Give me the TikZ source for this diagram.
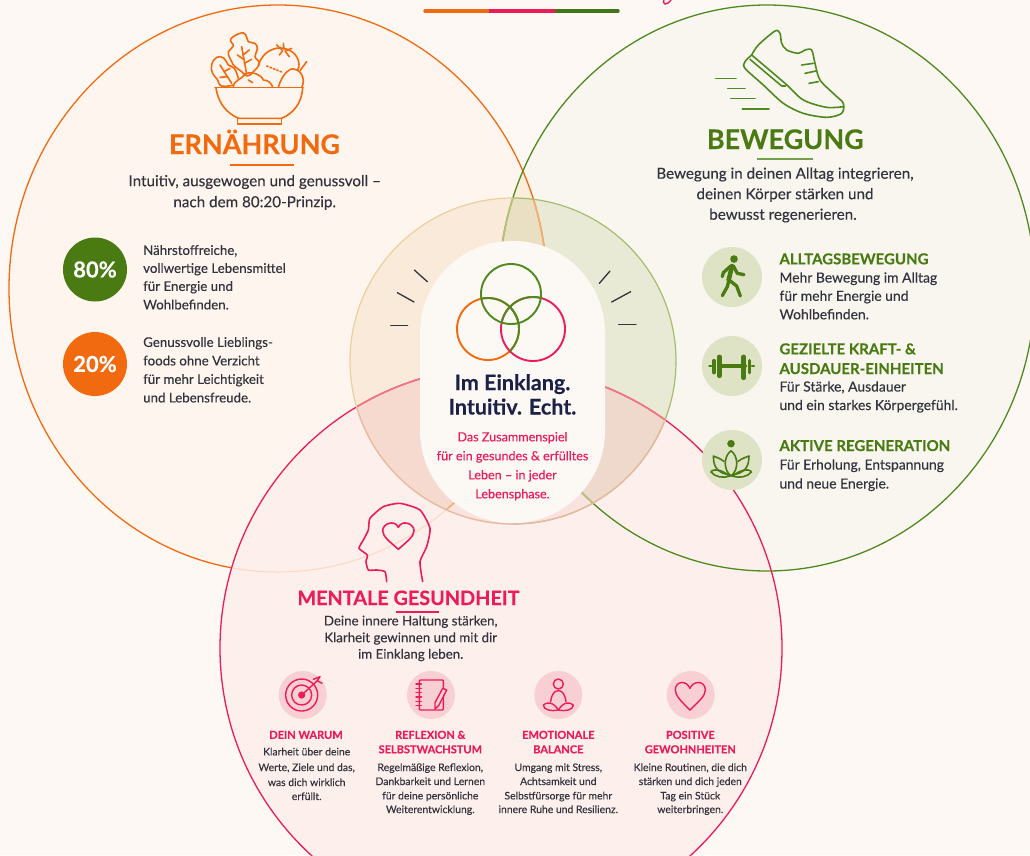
\documentclass[tikz,border=0pt]{standalone}
\usepackage{fontspec}
\setmainfont{Lato}[FakeBold=0.25]
\definecolor{bgc}{HTML}{FDF8F4}
\definecolor{ora}{HTML}{F26A10}
\definecolor{gre}{HTML}{4F8A1E}
\definecolor{grd}{HTML}{4A7A12}
\definecolor{pnk}{HTML}{EC1C5B}
\definecolor{orf}{HTML}{FEF6EE}
\definecolor{grf}{HTML}{F8F6EF}
\definecolor{pif}{HTML}{FDF0EC}
\definecolor{ink}{HTML}{33333D}
\definecolor{navy}{HTML}{1B2147}
\definecolor{lens}{HTML}{FCEEDD}
\definecolor{iO}{HTML}{F9EADA}
\definecolor{iG}{HTML}{E8EAD6}
\definecolor{iL}{HTML}{E9DFC2}
\definecolor{iP}{HTML}{FAE2DF}
\definecolor{iPO}{HTML}{F6D9CF}
\definecolor{iPG}{HTML}{EFD9CC}
\definecolor{lnO}{HTML}{F0B070}
\definecolor{lnG}{HTML}{B4C27A}
\definecolor{lnP}{HTML}{F07882}
\definecolor{bdO}{HTML}{EBCF9E}
\definecolor{bdG}{HTML}{A9BC6E}
\definecolor{bdP}{HTML}{E9B9A4}
\definecolor{pillc}{HTML}{FCF8F4}
\definecolor{discG}{HTML}{DFE3C5}
\definecolor{discP}{HTML}{F8CFD3}
\newcounter{tn}
\newcommand\fs[1]{\fontsize{#1}{#1}\selectfont}
\newcommand\tline[4]{\stepcounter{tn}\node[#1] (t\arabic{tn}) at (#2,#3) {#4};}
\newcommand\ringO{(278,288.5) ellipse [x radius=269pt,y radius=283.5pt]}
\newcommand\ringG{(767,288) ellipse [x radius=268pt,y radius=283pt]}
\newcommand\ringP{(501,648) circle [radius=281pt]}
\newcommand\ringI{(513,361) circle [radius=163pt]}
\tikzset{
 zm/.style n args={2}{xshift=#1pt,yshift=-#2pt,x=.33333pt,y=-.33333pt},
 tx/.style={inner sep=0pt,text=ink},
 big/.style={tx,anchor=base,font=\bfseries\fs{27},yshift=-9pt},
 lead/.style={tx,anchor=base,font=\fs{15.2},yshift=-3.7pt},
 side/.style={tx,anchor=base west,font=\fs{13.3},yshift=-3.4pt},
 sider/.style={tx,anchor=base west,font=\fs{13.9},yshift=-3.5pt},
 sideh/.style={tx,anchor=base west,font=\bfseries\fs{15},yshift=-5pt,text=grd},
 small/.style={tx,anchor=base,font=\fs{10.4},yshift=-2.7pt},
 smallh/.style={tx,anchor=base,font=\bfseries\fs{11},yshift=-3.8pt,text=pnk},
 head/.style={tx,anchor=base,font=\bfseries\fs{21.5},yshift=-7.5pt,text=navy},
 pinkl/.style={tx,anchor=base,font=\fs{12.6},yshift=-3.3pt,text=pnk},
 ico/.style={line width=1.6pt,line cap=round,line join=round},
 badge/.style={circle,inner sep=0pt,minimum size=64pt,text=white,font=\bfseries\fs{22}},
}
\begin{document}
\begin{tikzpicture}[x=1pt,y=-1pt]
\useasboundingbox (0,0) rectangle (1030,855);
\clip (0,0) rectangle (1030,855);
\fill[bgc] (0,0) rectangle (1030,855);
% big fills
\fill[orf] \ringO;
\fill[grf] \ringG;
\begin{scope}\clip \ringO; \fill[lens] \ringG; \end{scope}
% inner tints
\begin{scope}\clip \ringI;
 \begin{scope}\clip \ringO; \fill[iO] (300,190) rectangle (700,530);\end{scope}
 \begin{scope}\clip \ringG; \fill[iG] (300,190) rectangle (700,530);
   \clip \ringO; \fill[iL] (300,190) rectangle (700,530);\end{scope}
\end{scope}
\draw[ora,line width=1.3pt] \ringO;
% pink
\fill[pif] \ringP;
\begin{scope}\clip \ringP; \draw[ora,opacity=.18,line width=1pt] \ringO;\end{scope}
\begin{scope}\clip \ringI; \clip \ringP;
 \fill[iP] (300,190) rectangle (700,530);
 \begin{scope}\clip \ringO; \fill[iPO] (300,190) rectangle (700,530);\end{scope}
 \begin{scope}\clip \ringG; \fill[iPG] (300,190) rectangle (700,530);\end{scope}
\end{scope}
\draw[gre,line width=1.3pt] \ringG;
\begin{scope}\clip \ringI;
 \draw[lnO,line width=1.6pt] \ringO;
 \draw[lnG,line width=1.6pt] \ringG;
\end{scope}
\draw[pnk,line width=1.3pt] \ringP;
\begin{scope}\clip \ringI; \draw[lnP,line width=1.6pt] \ringP;\end{scope}
% inner border
\begin{scope}\clip (0,0) rectangle (513,855); \draw[bdO,line width=1.2pt] \ringI;\end{scope}
\begin{scope}\clip (513,0) rectangle (1030,855); \draw[bdG,line width=1.2pt] \ringI;\end{scope}
\begin{scope}\clip \ringP; \draw[bdP,line width=1.2pt] \ringI;\end{scope}
% pill
\node[rectangle,rounded corners=92pt,minimum width=185pt,minimum height=282pt,inner sep=0pt,fill=pillc] (pill) at (512.5,382) {};
% top bar
\coordinate (ba) at (425,11); \coordinate (bb) at (489,11); \coordinate (bc) at (555,11); \coordinate (bd) at (618,11);
\draw[ora,line width=3.4pt,line cap=round] (ba)--(bb);
\draw[gre!85!black,line width=3.4pt,line cap=round] (bc)--(bd);
\draw[pnk,line width=3.4pt] (bb)--(bc);
\begin{scope}[zm={400}{0}]
\draw[pnk,line width=1.4pt] (792,-3) .. controls (785,14) and (800,20) .. (815,-3);
\end{scope}
% ticks
\begin{scope}[zm={340}{190},ink,line width=1.3pt,line cap=round]
\draw (223,240)--(262,275); \draw (172,308)--(222,336); \draw (152,406)--(203,406);
\draw (778,280)--(810,243); \draw (815,336)--(872,305); \draw (836,403)--(888,403);
\end{scope}
% Venn icon
\begin{scope}[line width=1.9pt]
\draw[ora] (488,329) circle [radius=31pt];
\draw[pnk] (533,329) circle [radius=32pt];
\begin{scope}\clip (533,329) circle [radius=32pt]; \draw[gre] (488,329) circle [radius=31pt];\end{scope}
\begin{scope}\clip (511,294) circle [radius=30pt]; \draw[gre] (488,329) circle [radius=31pt]; \draw[gre] (533,329) circle [radius=32pt];\end{scope}
\draw[gre] (511,294) circle [radius=30pt];
\end{scope}
% Bowl icon
\begin{scope}[zm={0}{0},ora,ico]
\draw (645,262)--(910,262);
\draw (648,264) .. controls (655,310) and (680,340) .. (716,355) -- (845,355) .. controls (880,340) and (905,310) .. (908,264);
\draw (712,355) -- (712,372) -- (845,372) -- (845,355);
\draw plot[smooth cycle,tension=.8] coordinates {(720,100)(737,104)(745,125)(765,130)(772,148)(765,170)(778,190)(760,215)(742,228)(725,215)(700,195)(690,175)(685,155)(700,138)(692,118)};
\draw (725,140)--(740,222); \draw (729,165)--(748,150); \draw (733,190)--(755,178); \draw (731,178)--(712,165);
\draw plot[smooth,tension=.8] coordinates {(700,255)(665,258)(652,238)(638,220)(635,195)(650,172)(672,175)(685,195)(703,205)(715,235)};
\draw (660,195)--(695,250); \draw (672,215)--(690,205); \draw (682,230)--(660,232);
\draw (775,195) .. controls (790,150) and (830,140) .. (850,145) .. controls (890,150) and (905,190) .. (893,210);
\draw (830,135)--(846,150); \draw (850,130)--(852,148); \draw (875,145)--(858,152); \draw (838,165)--(848,152); \draw (868,170)--(855,153);
\draw (835,262) .. controls (845,225) and (870,200) .. (885,208) .. controls (910,215) and (915,245) .. (905,262);
\draw (900,212)--(920,185);
\draw (700,262) .. controls (700,240) and (725,240) .. (735,222) .. controls (755,212) and (785,225) .. (790,240) .. controls (805,240) and (815,250) .. (818,262);
\draw (745,240)--(758,248);
\draw[dotted] (800,198)--(850,218);
\end{scope}
\draw[ora,line width=1.2pt] (230,165) coordinate (ua) -- (294,165) coordinate (ub);
% Shoe
\begin{scope}[zm={510}{0},gre,ico]
\draw plot[smooth,tension=.5] coordinates {(725,165)(745,135)(795,93)(810,100)(815,130)(830,150)(865,160)(885,150)(905,150)(915,190)(930,240)(975,285)(1000,310)(995,340)(950,352)(880,340)(820,310)(760,255)(705,205)(705,185)(725,165)};
\draw plot[smooth,tension=.5] coordinates {(725,165)(825,250)(880,300)(950,322)(1000,320)};
\draw (720,178)--(815,258)--(827,258);
\draw (875,195)--(910,190); \draw (885,220)--(918,213); \draw (897,250)--(925,245);
\draw (617,235)--(678,235); \draw (653,265)--(705,265); \draw (662,295)--(735,295); \draw (697,327)--(777,327);
\end{scope}
\draw[gre!80!white,line width=1.2pt] (757,159) coordinate (uc) -- (813,159) coordinate (ud);
% Head icon
\begin{scope}[zm={280}{490},pnk,ico]
\draw plot[smooth,tension=.35] coordinates {(320,275)(315,245)(290,240)(265,240)(258,215)(262,195)(237,175)(250,150)(265,120)(270,85)(310,50)(360,40)(420,60)(450,115)(440,170)(420,215)(428,275)};
\draw (355,178) .. controls (330,155) and (308,140) .. (308,122) .. controls (308,100) and (345,88) .. (355,112) .. controls (365,88) and (402,100) .. (402,122) .. controls (402,140) and (380,155) .. (355,178);
\end{scope}
\draw[pnk,line width=1.2pt] (396,612) coordinate (ue) -- (439,612) coordinate (uf);
% Badges
\node[badge,fill=grd] (b80) at (95,269.5) {80\%};
\node[badge,fill=ora] (b20) at (95,364) {20\%};
% green discs
\foreach \n/\y in {dA/277,dB/366,dC/460}{\node[circle,minimum size=60pt,inner sep=0pt,fill=discG] (\n) at (732,\y) {};}
% Walker
\begin{scope}[zm={680}{230},grd,line width=3.3pt,line cap=round,line join=round]
\fill (162,87) circle [radius=3.8pt];
\draw[line width=4.6pt] (156,108)--(146,150);
\draw (152,108)--(130,128)--(127,140);
\draw (160,108)--(172,130)--(192,134);
\draw (147,150)--(142,170)--(127,197);
\draw (147,150)--(170,168)--(181,198);
\end{scope}
% Dumbbell
\begin{scope}[zm={680}{230},grd,line cap=round]
\draw[line width=4pt] (118,408)--(195,408);
\draw[line width=5pt] (118,381)--(118,437);
\draw[line width=5pt] (191,381)--(191,443);
\draw[line width=3.6pt] (102,392)--(102,428);
\draw[line width=3.6pt] (208,392)--(208,428);
\draw[line width=2.4pt] (88,408)--(94,408); \draw[line width=2.4pt] (216,408)--(222,408);
\end{scope}
% Lotus
\begin{scope}[zm={680}{230},grd,line width=1.6pt,line join=round]
\fill (153,641) circle [radius=3.8pt];
\draw (153,662) .. controls (130,680) and (130,720) .. (153,738) .. controls (176,720) and (176,680) .. (153,662);
\draw (133,695) .. controls (120,685) and (110,682) .. (100,678) .. controls (100,700) and (105,725) .. (140,733);
\draw (173,695) .. controls (186,685) and (196,682) .. (207,678) .. controls (207,700) and (202,725) .. (166,733);
\draw (92,725) .. controls (110,712) and (130,725) .. (150,738) .. controls (130,745) and (105,742) .. (92,725);
\draw (215,725) .. controls (197,712) and (177,725) .. (156,738) .. controls (177,745) and (202,742) .. (215,725);
\end{scope}
% pink discs
\foreach \n/\x in {pA/302.7,pB/431,pC/558.3,pD/690.7}{\node[circle,minimum size=48pt,inner sep=0pt,fill=discP] (\n) at (\x,695) {};}
\begin{scope}[zm={260}{660},pnk,line width=1.4pt,line cap=round,line join=round]
% target
\draw (125,105) circle [radius=16pt]; \draw (125,105) circle [radius=10pt]; \fill (125,105) circle [radius=3.6pt];
\draw (125,105)--(172,62); \draw (160,58)--(180,50)--(172,62)--(186,70);
% notebook
\draw[rounded corners=1pt] (478,60) rectangle (550,150);
\foreach \y in {72,85,98,111,124,137}{\draw (468,\y)--(484,\y);}
\fill[discP] (525,128)--(548,85)--(560,90)--(537,135)--(525,147)--cycle;
\draw (525,128)--(548,85)--(560,90)--(537,135)--(525,147)--cycle;
% meditation
\draw (895,72) circle [radius=5pt];
\draw (872,125) .. controls (875,100) and (885,92) .. (895,92) .. controls (905,92) and (915,100) .. (918,125);
\draw (895,150) .. controls (880,125) and (860,125) .. (850,135) .. controls (850,150) and (875,155) .. (895,150);
\draw (895,150) .. controls (910,125) and (930,125) .. (940,135) .. controls (940,150) and (915,155) .. (895,150);
% heart
\draw (1290,150) .. controls (1265,125) and (1246,108) .. (1246,90) .. controls (1246,62) and (1280,60) .. (1290,85) .. controls (1300,60) and (1336,62) .. (1336,90) .. controls (1336,108) and (1315,125) .. (1290,150);
\end{scope}
% Texts: Ernaehrung
\tline{big,text=ora}{254.5}{145}{ERNÄHRUNG}
\tline{lead}{254.7}{182.5}{Intuitiv, ausgewogen und genussvoll –}
\tline{lead}{254.7}{203.5}{nach dem 80:20-Prinzip.}
\tline{side}{143}{251.5}{Nährstoffreiche,}
\tline{side}{143}{269.5}{vollwertige Lebensmittel}
\tline{side}{143}{287.5}{für Energie und}
\tline{side}{143}{306}{Wohlbefinden.}
\tline{side}{143}{343.5}{Genussvolle Lieblings-}
\tline{side}{143}{362}{foods ohne Verzicht}
\tline{side}{143}{380.5}{für mehr Leichtigkeit}
\tline{side}{143}{399}{und Lebensfreude.}
% Bewegung
\tline{big,text=grd}{785.3}{140}{BEWEGUNG}
\tline{lead}{785}{175}{Bewegung in deinen Alltag integrieren,}
\tline{lead}{785}{195.5}{deinen Körper stärken und}
\tline{lead}{783}{216}{bewusst regenerieren.}
\tline{sideh}{779.3}{259.3}{ALLTAGSBEWEGUNG}
\tline{sider}{779.3}{279}{Mehr Bewegung im Alltag}
\tline{sider}{779.3}{297.3}{für mehr Energie und}
\tline{sider}{779.3}{315.8}{Wohlbefinden.}
\tline{sideh}{779.3}{349.3}{GEZIELTE KRAFT- \&}
\tline{sideh}{779.3}{369}{AUSDAUER-EINHEITEN}
\tline{sider}{779.3}{388}{Für Stärke, Ausdauer}
\tline{sider}{779.3}{406.5}{und ein starkes Körpergefühl.}
\tline{sideh}{779.3}{446}{AKTIVE REGENERATION}
\tline{sider}{779.3}{466}{Für Erholung, Entspannung}
\tline{sider}{779.3}{485}{und neue Energie.}
% Centre
\tline{head}{512.5}{382.7}{Im Einklang.}
\tline{head}{512.5}{407}{Intuitiv. Echt.}
\tline{pinkl}{512.5}{438}{Das Zusammenspiel}
\tline{pinkl}{512.5}{457}{für ein gesundes \& erfülltes}
\tline{pinkl}{512.5}{476}{Leben – in jeder}
\tline{pinkl}{512.5}{495}{Lebensphase.}
% Mentale
\tline{big,text=pnk,font=\bfseries\fs{19.8},yshift=2pt}{408.5}{598}{MENTALE GESUNDHEIT}
\tline{lead,font=\fs{13.3}}{410.7}{621.7}{Deine innere Haltung stärken,}
\tline{lead,font=\fs{13.3}}{410.7}{638.5}{Klarheit gewinnen und mit dir}
\tline{lead,font=\fs{13.3}}{410.7}{655}{im Einklang leben.}
% Columns
\tline{smallh}{306}{735}{DEIN WARUM}
\tline{small}{306.7}{752.7}{Klarheit über deine}
\tline{small}{306.7}{768.3}{Werte, Ziele und das,}
\tline{small}{306.7}{783.3}{was dich wirklich}
\tline{small}{306.7}{797.3}{erfüllt.}
\tline{smallh}{430.3}{735}{REFLEXION \&}
\tline{smallh}{430.3}{749.5}{SELBSTWACHSTUM}
\tline{small}{430.3}{768.3}{Regelmäßige Reflexion,}
\tline{small}{430.3}{782.3}{Dankbarkeit und Lernen}
\tline{small}{430.3}{796.7}{für deine persönliche}
\tline{small}{430.3}{810.3}{Weiterentwicklung.}
\tline{smallh}{558.3}{735}{EMOTIONALE}
\tline{smallh}{558.3}{749.5}{BALANCE}
\tline{small}{558.3}{768.3}{Umgang mit Stress,}
\tline{small}{558.3}{782.3}{Achtsamkeit und}
\tline{small}{558.3}{796.7}{Selbstfürsorge für mehr}
\tline{small}{558.3}{810.3}{innere Ruhe und Resilienz.}
\tline{smallh}{690.3}{735}{POSITIVE}
\tline{smallh}{690.3}{749.5}{GEWOHNHEITEN}
\tline{small}{690.3}{768.3}{Kleine Routinen, die dich}
\tline{small}{690.3}{782.3}{stärken und dich jeden}
\tline{small}{690.3}{796.7}{Tag ein Stück}
\tline{small}{690.3}{810.3}{weiterbringen.}
\end{tikzpicture}
\end{document}
